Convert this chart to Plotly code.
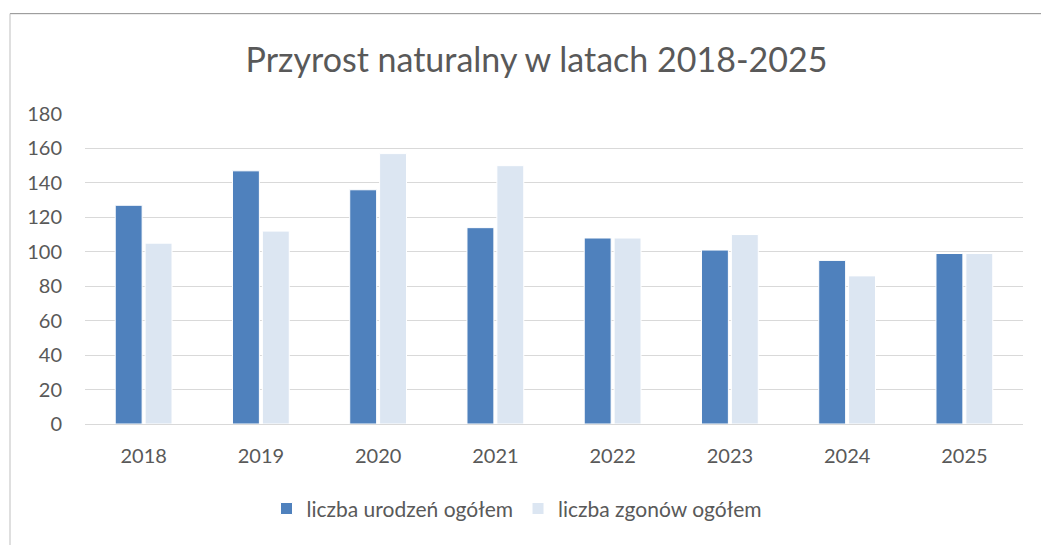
import plotly.graph_objects as go

years = ["2018", "2019", "2020", "2021", "2022", "2023", "2024", "2025"]
births = [127, 147, 136, 114, 108, 101, 95, 99]
deaths = [105, 112, 157, 150, 108, 110, 86, 99]
series_names = ["liczba urodzeń ogółem", "liczba zgonów ogółem"]
y_ticks = [0, 20, 40, 60, 80, 100, 120, 140, 160, 180]

OFF = 8  # page body margin
W, H = 1049 - OFF, 545 - OFF
L, R, T, B = 85 - OFF, 26, 113.5 - OFF, 121
pw, ph = W - L - R, H - T - B

fig = go.Figure()
fig.add_trace(go.Bar(x=years, y=births, name=series_names[0],
                     marker=dict(color="#4F81BD", line=dict(color="#ffffff", width=1))))
fig.add_trace(go.Bar(x=years, y=deaths, name=series_names[1],
                     marker=dict(color="#DCE6F2", line=dict(color="#ffffff", width=1))))

font = "Lato, 'Open Sans', sans-serif"
fig.update_layout(
    width=W, height=H,
    margin=dict(l=L, r=R, t=T, b=B, autoexpand=False),
    paper_bgcolor="white", plot_bgcolor="white",
    barmode="group", bargap=0.49, bargroupgap=0.1,
    title=dict(text="Przyrost naturalny w latach 2018-2025",
               x=(536.5 - OFF) / W, xanchor="center",
               y=1 - (60 - OFF) / H, yanchor="middle",
               font=dict(family=font, size=34, color="#595959")),
    font=dict(family=font, size=20, color="#595959"),
    showlegend=True,
    legend=dict(orientation="h", x=(517 - 85) / pw, xanchor="center",
                y=-(509 - 424) / ph, yanchor="middle",
                font=dict(family=font, size=21, color="#595959"), itemwidth=30,
                traceorder="normal"),
    xaxis=dict(showgrid=False, showline=True, linecolor="#d9d9d9", linewidth=1,
               ticks="", tickfont=dict(size=20, color="#595959"), ticklabelstandoff=14),
    yaxis=dict(range=[0, 180], tickvals=y_ticks, showgrid=True, gridcolor="#d9d9d9",
               gridwidth=1, zeroline=False, showline=False, ticks="",
               tickfont=dict(size=20, color="#595959"), ticklabelstandoff=22),
)

# chart frame
ytop = (H - B - (13 - OFF)) / ph
xleft = (10 - OFF - L) / pw
fig.add_shape(type="line", xref="paper", yref="paper",
              x0=xleft, x1=(W - L + 5) / pw, y0=ytop, y1=ytop,
              line=dict(color="#8c8c8c", width=1))
fig.add_shape(type="line", xref="paper", yref="paper",
              x0=xleft, x1=xleft, y0=ytop, y1=-(B + 5) / ph,
              line=dict(color="#bfbfbf", width=1))

fig.write_html("out.html")
